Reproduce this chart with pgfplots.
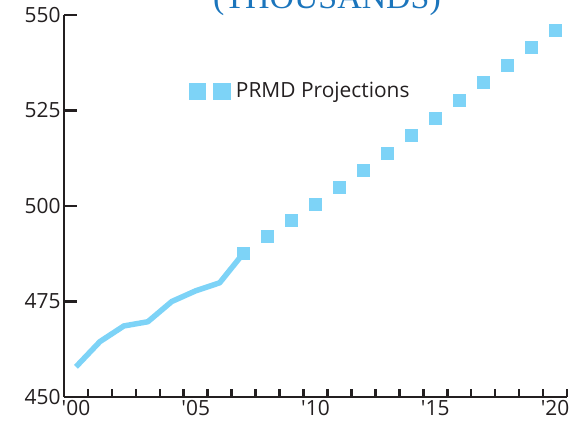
\documentclass[border=0pt]{standalone}
\usepackage{pgfplots}
\pgfplotsset{compat=1.18}
\usepackage{fontspec}
\setmainfont{Open Sans}
\newfontfamily\tickfont{Open Sans}
\newfontfamily\titlefont{Liberation Serif}
\definecolor{lblue}{HTML}{7DD3F7}
\definecolor{axisdark}{HTML}{231F20}
\definecolor{tblue}{HTML}{1B75BC}

\begin{document}
\begin{tikzpicture}
\begin{axis}[
  scale only axis, width=503bp, height=382bp,
  xmin=-0.5, xmax=20.5, ymin=450, ymax=550,
  axis lines*=left,
  axis line style={-, line width=2.6bp, color=axisdark},
  xtick={0,5,10,15,20},
  xticklabels={{\tickfont '00},{\tickfont '05},{\tickfont '10},{\tickfont '15},{\tickfont '20}},
  major x tick style={draw=none},
  minor xtick={0.5,1.5,...,20.5},
  minor tick length=8bp,
  ytick={450,475,500,525,550},
  major tick length=13bp,
  tick align=inside,
  tick style={line width=2.6bp, color=axisdark},
  /pgf/number format/assume math mode=true,
  tick label style={font=\fontsize{21}{24}\selectfont, text=axisdark},
  clip=false,
  legend style={at={(rel axis cs:0.248,0.801)}, anchor=west, draw=none, fill=none,
    inner sep=0pt, nodes={inner sep=0pt}, font=\fontsize{21}{24}\selectfont, text=axisdark},
  legend image code/.code={
    \fill[lblue, draw=none] (0bp,-8.5bp) rectangle (17bp,8.5bp);
    \fill[lblue, draw=none] (24bp,-8.5bp) rectangle (42bp,8.5bp);
    \path[draw=none, fill=none] (0bp,0bp) rectangle (47bp,0.1bp);
  },
]
\addplot[lblue, line width=5.5bp, line join=round, forget plot] coordinates {
  (0,457.9)(1,464.5)(2,468.6)(3,469.7)(4,475.0)(5,477.8)(6,479.9)(7,487.7)
};
\addplot[only marks, mark=square*, mark size=6bp, color=lblue] coordinates {
  (7,487.7)(8,492.1)(9,496.3)(10,500.5)(11,505.0)(12,509.4)(13,513.9)
  (14,518.6)(15,523.0)(16,527.8)(17,532.5)(18,536.9)(19,541.6)(20,546.1)
};
\addlegendentry{PRMD Projections}
\end{axis}
\node[font=\titlefont\fontsize{34}{36}\selectfont, text=tblue, anchor=base] at (263bp,388bp) {(THOUSANDS)};
\pgfresetboundingbox
\useasboundingbox (-64bp,-27bp) rectangle (517bp,397bp);
\end{tikzpicture}
\end{document}
